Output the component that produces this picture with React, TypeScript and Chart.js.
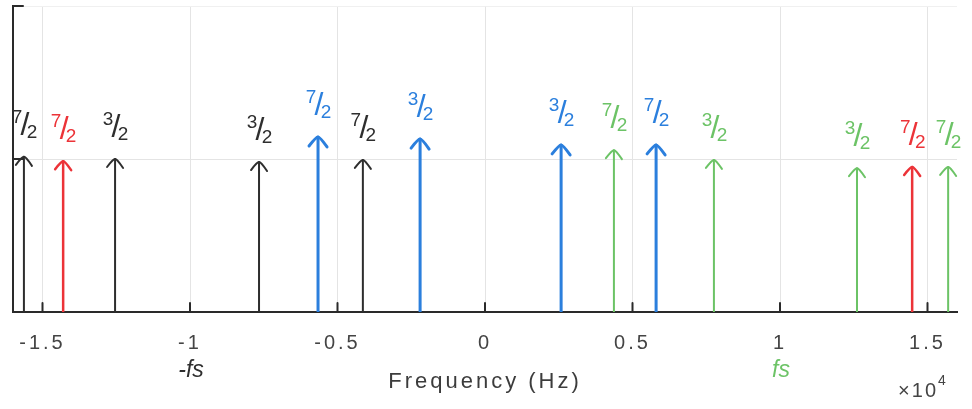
import React, { useEffect, useRef } from 'react';
import { Chart, registerables } from 'chart.js';

Chart.register(...registerables);

// ---- data (frequencies in Hz, heights on a 0..1 axis) ----
const xTickValues = [-15000, -10000, -5000, 0, 5000, 10000, 15000];
const xTickLabels = ['-1.5', '-1', '-0.5', '0', '0.5', '1', '1.5'];
const yTickValues = [0, 0.5, 1];

const blackFreqs = [-15630, -12540, -7660, -4140];
const blackHeights = [0.507, 0.5, 0.49, 0.497];
const blackLabels = ['7/2', '3/2', '3/2', '7/2'];

const redFreqs = [-14300, 14480];
const redHeights = [0.493, 0.474];
const redLabels = ['7/2', '7/2'];

const blueFreqs = [-5660, -2200, 2580, 5800];
const blueHeights = [0.572, 0.565, 0.546, 0.546];
const blueLabels = ['7/2', '3/2', '3/2', '7/2'];

const greenFreqs = [4370, 7760, 12610, 15700];
const greenHeights = [0.529, 0.497, 0.47, 0.474];
const greenLabels = ['7/2', '3/2', '3/2', '7/2'];

const fsMarkValues = [-10000, 10000];
const fsMarkTexts = ['-fs', 'fs'];

// ---- styles ----
const BLACK = '#2e2e2e';
const RED = '#ec3338';
const BLUE = '#2b7fdd';
const GREEN = '#6cc366';
const AXIS = '#2a2a2a';
const TEXT = '#444444';

const groups = [
  { freqs: blackFreqs, heights: blackHeights, labels: blackLabels, color: BLACK, width: 2, head: 8 },
  { freqs: redFreqs, heights: redHeights, labels: redLabels, color: RED, width: 2.5, head: 8 },
  { freqs: blueFreqs, heights: blueHeights, labels: blueLabels, color: BLUE, width: 3, head: 9 },
  { freqs: greenFreqs, heights: greenHeights, labels: greenLabels, color: GREEN, width: 2, head: 8 },
];
const fsMarkColors = [BLACK, GREEN];

function drawFraction(ctx: CanvasRenderingContext2D, label: string, cx: number, cy: number, color: string) {
  const [num, den] = label.split('/');
  ctx.fillStyle = color;
  ctx.textAlign = 'center';
  ctx.textBaseline = 'middle';
  ctx.font = '19px "Liberation Sans"';
  ctx.fillText(num, cx - 7, cy - 7);
  ctx.fillText(den, cx + 8, cy + 8);
  ctx.font = '32px "Liberation Sans"';
  ctx.fillText('/', cx + 1, cy + 1);
}

const arrowPlugin = {
  id: 'arrowPlugin',
  beforeDraw(chart: any) {
    (chart.ctx as any).letterSpacing = '3px';
  },
  afterDatasetsDraw(chart: any) {
    const ctx: CanvasRenderingContext2D = chart.ctx;
    const xs = chart.scales.x;
    const ys = chart.scales.y;
    const area = chart.chartArea;
    ctx.save();
    (ctx as any).letterSpacing = '0px';
    ctx.lineCap = 'round';
    ctx.lineJoin = 'round';
    // inward ticks
    ctx.strokeStyle = AXIS;
    ctx.lineWidth = 2;
    xTickValues.forEach((v) => {
      const px = xs.getPixelForValue(v);
      ctx.beginPath();
      ctx.moveTo(px, area.bottom);
      ctx.lineTo(px, area.bottom - 9);
      ctx.stroke();
    });
    yTickValues.slice(1).forEach((v) => {
      const py = ys.getPixelForValue(v);
      ctx.beginPath();
      ctx.moveTo(area.left, py);
      ctx.lineTo(area.left + 10, py);
      ctx.stroke();
    });
    // arrow heads and labels
    groups.forEach((g) => {
      g.freqs.forEach((f, i) => {
        const px = xs.getPixelForValue(f);
        const py = ys.getPixelForValue(g.heights[i]);
        ctx.strokeStyle = g.color;
        ctx.lineWidth = g.width;
        ctx.beginPath();
        ctx.moveTo(px - g.head, py + g.head);
        ctx.quadraticCurveTo(px - 2, py, px, py);
        ctx.quadraticCurveTo(px + 2, py, px + g.head, py + g.head + 1);
        ctx.stroke();
        drawFraction(ctx, g.labels[i], px, py - 32, g.color);
      });
    });
    ctx.restore();
  },
  afterDraw(chart: any) {
    const ctx: CanvasRenderingContext2D = chart.ctx;
    const xs = chart.scales.x;
    const area = chart.chartArea;
    ctx.save();
    (ctx as any).letterSpacing = '0px';
    ctx.textAlign = 'center';
    ctx.textBaseline = 'middle';
    fsMarkValues.forEach((v, i) => {
      ctx.fillStyle = fsMarkColors[i];
      ctx.font = 'italic 23px "Liberation Sans"';
      ctx.fillText(fsMarkTexts[i], xs.getPixelForValue(v) + 1, area.bottom + 59);
    });
    // exponent label
    (ctx as any).letterSpacing = '2px';
    ctx.fillStyle = TEXT;
    ctx.textAlign = 'right';
    ctx.font = '20px "Liberation Sans"';
    ctx.fillText('\u00d710', area.right - 19, area.bottom + 79);
    ctx.textAlign = 'left';
    ctx.font = '14px "Liberation Sans"';
    ctx.fillText('4', area.right - 19, area.bottom + 69);
    ctx.restore();
  },
};

export default function App() {
  const canvasRef = useRef<HTMLCanvasElement | null>(null);

  useEffect(() => {
    document.body.style.margin = '0';
    const canvas = canvasRef.current;
    if (!canvas) return;

    const datasets = groups.map((g) => ({
      data: g.freqs.flatMap((f, i) => [
        { x: f, y: 0 },
        { x: f, y: g.heights[i] },
        { x: f, y: null },
      ]),
      borderColor: g.color,
      borderWidth: g.width,
      showLine: true,
      spanGaps: false,
      pointRadius: 0,
      pointHoverRadius: 0,
      borderCapStyle: 'round',
    }));

    const chart = new Chart(canvas, {
      type: 'scatter',
      data: { datasets: datasets as any },
      options: {
        animation: false,
        responsive: true,
        maintainAspectRatio: false,
        layout: { padding: { left: 0, top: 6, right: 15, bottom: 0 } },
        plugins: { legend: { display: false }, tooltip: { enabled: false } },
        scales: {
          x: {
            type: 'linear',
            min: -16000,
            max: 16000,
            afterBuildTicks: (scale: any) => {
              scale.ticks = xTickValues.map((v) => ({ value: v }));
            },
            afterFit: (scale: any) => {
              scale.height = 97;
            },
            ticks: {
              padding: 19,
              color: TEXT,
              font: { family: '"Liberation Sans"', size: 20 },
              callback: (value: any) => {
                const idx = xTickValues.indexOf(Number(value));
                return idx >= 0 ? xTickLabels[idx] : '';
              },
            },
            grid: { color: '#e4e4e4', lineWidth: 1, drawTicks: false },
            border: { display: true, color: AXIS, width: 2 },
            title: {
              display: true,
              text: 'Frequency (Hz)',
              color: '#3c3c3c',
              font: { family: '"Liberation Sans"', size: 22 },
              padding: { top: 0, bottom: 14 },
            },
          },
          y: {
            type: 'linear',
            min: 0,
            max: 1,
            afterBuildTicks: (scale: any) => {
              scale.ticks = yTickValues.map((v) => ({ value: v }));
            },
            afterFit: (scale: any) => {
              scale.width = 13;
            },
            ticks: { display: false },
            grid: {
              color: (c: any) => (c.tick && c.tick.value === 1 ? '#f0f0f0' : '#e4e4e4'),
              lineWidth: 1,
              drawTicks: false,
            },
            border: { display: true, color: AXIS, width: 2 },
          },
        },
      },
      plugins: [arrowPlugin],
    });

    return () => chart.destroy();
  }, []);

  return (
    <div style={{ width: 972, height: 409, position: 'relative', background: '#ffffff' }}>
      <canvas ref={canvasRef} />
    </div>
  );
}
